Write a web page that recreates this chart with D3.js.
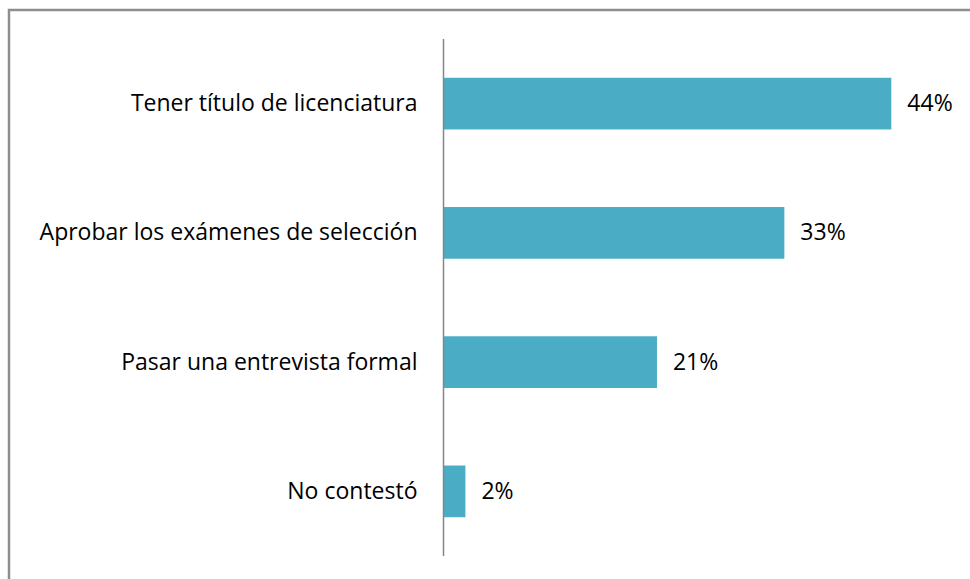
<!DOCTYPE html>
<html>
<head>
<meta charset="utf-8">
<script src="https://cdn.jsdelivr.net/npm/d3@7"></script>
<style>
  html, body { margin: 0; padding: 0; background: #fff; }
  svg { display: block; }
</style>
</head>
<body>
<svg id="chart" width="970" height="579"></svg>
<script>
const categories = [
  "Tener título de licenciatura",
  "Aprobar los exámenes de selección",
  "Pasar una entrevista formal",
  "No contestó"
];
const values = [43.9, 33.4, 20.9, 2.1];
const valueLabels = values.map(v => Math.round(v) + "%");

const W = 970, H = 579;
const svg = d3.select("#chart");
const fontFamily = "'Open Sans', 'DejaVu Sans', sans-serif";

// outer frame (only top & left visible in the picture)
svg.append("rect")
  .attr("x", 9).attr("y", 10)
  .attr("width", W + 20).attr("height", H + 20)
  .attr("fill", "none")
  .attr("stroke", "#8e8e8e")
  .attr("stroke-width", 2.5);

const axisX = 443.5;
const x = d3.scaleLinear().domain([0, 50]).range([axisX + 0.5, axisX + 0.5 + 509.5]);
const y = d3.scaleBand().domain(categories).range([39, 556]).paddingInner(0.6).paddingOuter(0.3);

// fit font size so the widest label matches reference width (~378px)
const probe = svg.append("text").attr("font-family", fontFamily).attr("font-size", 20)
  .text("Aprobar los exámenes de selección");
const w20 = probe.node().getComputedTextLength();
probe.remove();
const fontSize = Math.min(24, 20 * 378 / w20);

const g = svg.append("g");

// bars
g.selectAll("rect.bar")
  .data(categories)
  .join("rect")
  .attr("class", "bar")
  .attr("x", x(0))
  .attr("y", d => y(d))
  .attr("width", (d, i) => x(values[i]) - x(0))
  .attr("height", y.bandwidth())
  .attr("fill", "#4bacc6");

// vertical axis (no ticks)
const yAxis = d3.axisLeft(y).tickSize(0).tickPadding(26);
const axG = svg.append("g").attr("transform", `translate(${axisX},0)`).call(yAxis);
axG.select(".domain").attr("stroke", "#868686").attr("stroke-width", 1.5)
  .attr("d", `M0,39V556`);
axG.selectAll(".tick text")
  .attr("font-family", fontFamily)
  .attr("font-size", fontSize)
  .attr("fill", "#000")
  .attr("dy", "0.33em");

// value labels
g.selectAll("text.val")
  .data(categories)
  .join("text")
  .attr("class", "val")
  .attr("x", (d, i) => x(values[i]) + 16)
  .attr("y", d => y(d) + y.bandwidth() / 2)
  .attr("dy", "0.33em")
  .attr("font-family", fontFamily)
  .attr("font-size", fontSize)
  .attr("fill", "#000")
  .text((d, i) => valueLabels[i]);
</script>
</body>
</html>
